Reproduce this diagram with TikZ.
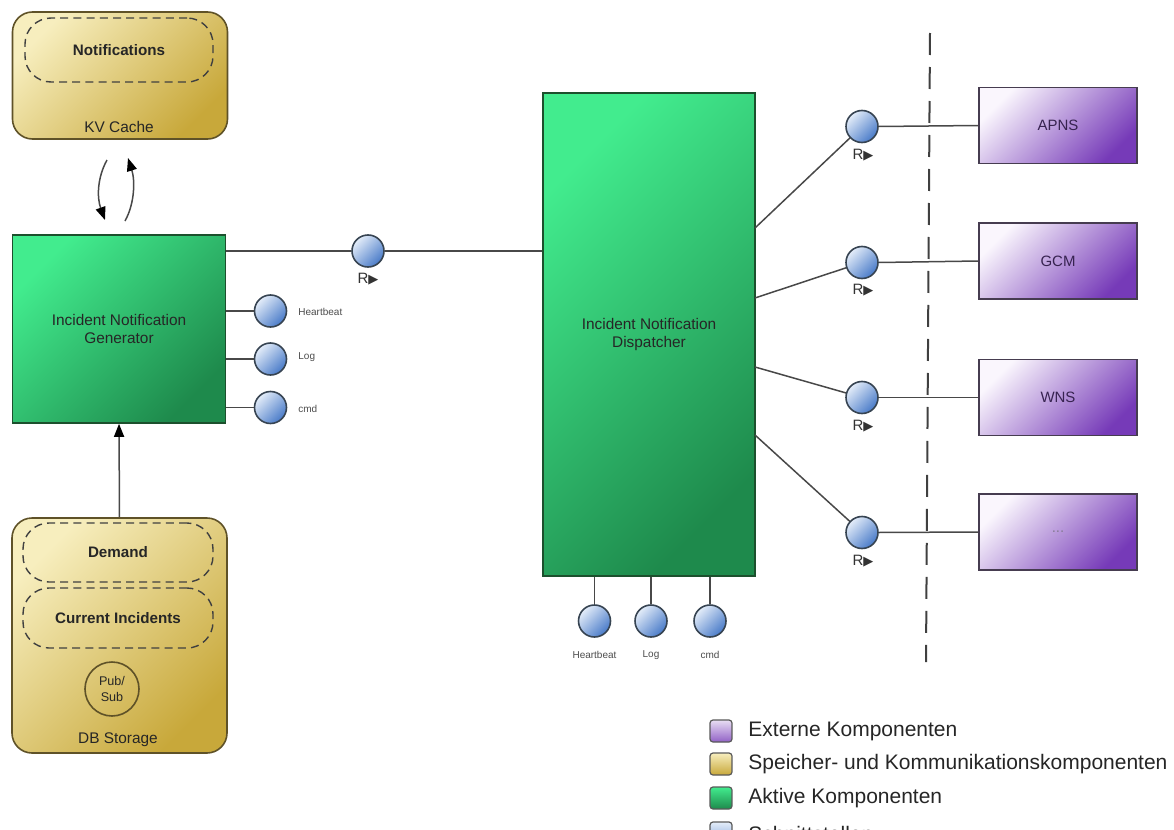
\documentclass[tikz,border=0pt]{standalone}
\usepackage{fontspec}
\setmainfont{Liberation Sans}
\newfontfamily\symfont{DejaVu Sans}
\usetikzlibrary{arrows.meta}
\definecolor{ylight}{RGB}{247,238,190}
\definecolor{ydark}{RGB}{200,168,58}
\definecolor{ybord}{RGB}{95,82,40}
\definecolor{glight}{RGB}{66,236,142}
\definecolor{gdark}{RGB}{30,138,76}
\definecolor{gbord}{RGB}{28,80,45}
\definecolor{plight}{RGB}{250,246,253}
\definecolor{pdark}{RGB}{118,58,184}
\definecolor{pbord}{RGB}{70,60,80}
\definecolor{ptext}{RGB}{55,35,80}
\definecolor{clight}{RGB}{228,237,249}
\definecolor{cdark}{RGB}{72,122,200}
\definecolor{cbord}{RGB}{55,68,82}
\definecolor{lineg}{RGB}{72,72,72}
\newcommand{\rtri}{R{\symfont\fontsize{6.5}{7}\selectfont\raisebox{0.2pt}{▶}}}
\begin{document}
\begin{tikzpicture}[x=0.5pt,y=-0.5pt,
  store/.style={draw=ybord, line width=0.8pt, rounded corners=10pt, top color=ylight, bottom color=ydark, shading angle=45, inner sep=0pt},
  innerbox/.style={draw=black!75, dash pattern=on 4pt off 2.6pt, line width=0.7pt, rounded corners=13pt, inner sep=0pt, font=\fontsize{7.6}{9}\selectfont\bfseries, text=black!85},
  storelabel/.style={font=\fontsize{7.7}{9}\selectfont, text=black!85, inner sep=0pt},
  active/.style={draw=gbord, line width=0.8pt, top color=glight, bottom color=gdark, shading angle=45, align=center, font=\fontsize{7.7}{9}\selectfont, text=black!85, inner sep=0pt},
  ext/.style={draw=pbord, line width=0.8pt, top color=plight, bottom color=pdark, shading angle=45, minimum width=79pt, minimum height=38pt, inner sep=0pt, font=\fontsize{7.5}{9}\selectfont, text=ptext},
  port/.style={circle, draw=cbord, line width=0.8pt, top color=clight, bottom color=cdark, shading angle=45, minimum size=16pt, inner sep=0pt},
  conn/.style={draw=lineg, line width=0.75pt},
  tip/.style={-{Triangle[length=6.5pt,width=5pt,color=black]}},
  plabel/.style={font=\fontsize{5}{6}\selectfont, text=black!70, inner sep=0pt},
  rlabel/.style={font=\fontsize{7.5}{9}\selectfont, text=black!80, inner sep=0pt},
  legsq/.style={draw=black!65, line width=0.6pt, rounded corners=1.5pt, minimum size=11pt, inner sep=0pt, shading angle=45},
  legtext/.style={anchor=west, font=\fontsize{10.5}{12}\selectfont, text=black!85, inner sep=0pt}
]
\useasboundingbox (0,0) rectangle (1174,830);

% ---- KV Cache ----
\node[store, minimum width=107.5pt, minimum height=63.5pt] (kv) at (120,75.5) {};
\node[innerbox, minimum width=94pt, minimum height=32pt] (notif) at (119,50) {Notifications};
\node[storelabel] (kvlab) at (119,127) {KV Cache};

% ---- Generator ----
\node[active, minimum width=106.5pt, minimum height=94pt] (gen) at (119,329) {Incident Notification\\Generator};

% ---- DB Storage ----
\node[store, minimum width=107.5pt, minimum height=117.5pt] (db) at (119.5,635.5) {};
\node[innerbox, minimum width=95pt, minimum height=29.5pt] (demand) at (118,552.5) {Demand};
\node[innerbox, minimum width=95pt, minimum height=30pt] (cur) at (118,618) {Current Incidents};
\node[circle, draw=ybord, line width=0.8pt, minimum size=27pt, inner sep=0pt, align=center, font=\fontsize{6.3}{8.3}\selectfont, text=black!85] (pubsub) at (112,689) {Pub/\\Sub};
\node[storelabel] (dblab) at (118,740) {DB Storage};

% ---- Dispatcher ----
\node[active, minimum width=106pt, minimum height=241.5pt] (disp) at (649,334.5) {Incident Notification\\Dispatcher};

% ---- External ----
\node[ext] (apns) at (1058,125.5) {APNS};
\node[ext] (gcm) at (1058,261) {GCM};
\node[ext] (wns) at (1058,397.5) {WNS};
\node[ext] (more) at (1058,532) {\textcolor{ptext!60}{...}};

% ---- Ports ----
\node[port] (rc0) at (368,251) {};
\node[rlabel] (rc0l) at (368,279) {\rtri};

\node[port] (hb) at (270.5,311) {};
\node[port] (lg) at (270.5,359) {};
\node[port] (cm) at (270.5,407.5) {};
\node[plabel, anchor=west] (hbl) at (298,312) {Heartbeat};
\node[plabel, anchor=west] (lgl) at (298,357) {Log};
\node[plabel, anchor=west] (cml) at (298,409) {cmd};

\node[port] (b1) at (594.5,621) {};
\node[port] (b2) at (651,621) {};
\node[port] (b3) at (710,621) {};
\node[plabel] (b1l) at (594.5,655) {Heartbeat};
\node[plabel] (b2l) at (651,655) {Log};
\node[plabel] (b3l) at (710,655) {cmd};

\coordinate (d1) at (755,228);
\coordinate (d2) at (755,298);
\coordinate (d3) at (755,367);
\coordinate (d4) at (755,435);
\coordinate (r1c) at (862,126.5);
\coordinate (r2c) at (862,262.5);
\coordinate (r3c) at (862,397.5);
\coordinate (r4c) at (862,532.5);

% ---- Connectors (under the right ports) ----
\draw[conn] (d1) -- (r1c);
\draw[conn] (d2) -- (r2c);
\draw[conn] (d3) -- (r3c);
\draw[conn] (d4) -- (r4c);

\node[port] (r1) at (r1c) {};
\node[port] (r2) at (r2c) {};
\node[port] (r3) at (r3c) {};
\node[port] (r4) at (r4c) {};
\node[rlabel] (r1l) at (863,155) {\rtri};
\node[rlabel] (r2l) at (863,290) {\rtri};
\node[rlabel] (r3l) at (863,426) {\rtri};
\node[rlabel] (r4l) at (863,561) {\rtri};

\draw[conn] (rc0.west) -- (rc0 -| gen.east);
\draw[conn] (rc0.east) -- (rc0 -| disp.west);
\draw[conn] (hb.west) -- (hb -| gen.east);
\draw[conn] (lg.west) -- (lg -| gen.east);
\draw[conn] (cm.west) -- (cm -| gen.east);
\draw[conn] (b1.north) -- (b1 |- disp.south);
\draw[conn] (b2.north) -- (b2 |- disp.south);
\draw[conn] (b3.north) -- (b3 |- disp.south);
\draw[conn] (r1.east) -- (apns.west);
\draw[conn] (r2.east) -- (gcm.west);
\draw[conn] (r3.east) -- (wns.west);
\draw[conn] (r4.east) -- (more.west);

\draw[conn, tip] (db.north) -- (gen.south);

\coordinate (a1s) at (107,160);
\coordinate (a1e) at (105,220);
\coordinate (a2s) at (125,221);
\coordinate (a2e) at (128,158);
\draw[conn, tip] (a1s) .. controls (97,178) and (97,198) .. (a1e);
\draw[conn, tip] (a2s) .. controls (135,203) and (135,180) .. (a2e);

% ---- Boundary ----
\coordinate (dtop) at (930,33);
\coordinate (dbot) at (926,662);
\draw[draw=black!75, line width=1pt, dash pattern=on 11pt off 6pt] (dtop) -- (dbot);

% ---- Legend ----
\node[legsq, top color=plight!60!pdark!40, bottom color=pdark!80] (lg1) at (721,731) {};
\node[legsq, top color=ylight, bottom color=ydark] (lg2) at (721,764) {};
\node[legsq, top color=glight, bottom color=gdark] (lg3) at (721,798) {};
\node[legsq, top color=clight, bottom color=cdark!70] (lg4) at (721,833) {};
\node[legtext] (lt1) at (748,731) {Externe Komponenten};
\node[legtext] (lt2) at (748,764) {Speicher- und Kommunikationskomponenten};
\node[legtext] (lt3) at (748,798) {Aktive Komponenten};
\node[legtext] (lt4) at (748,834) {Schnittstellen};
\end{tikzpicture}
\end{document}
